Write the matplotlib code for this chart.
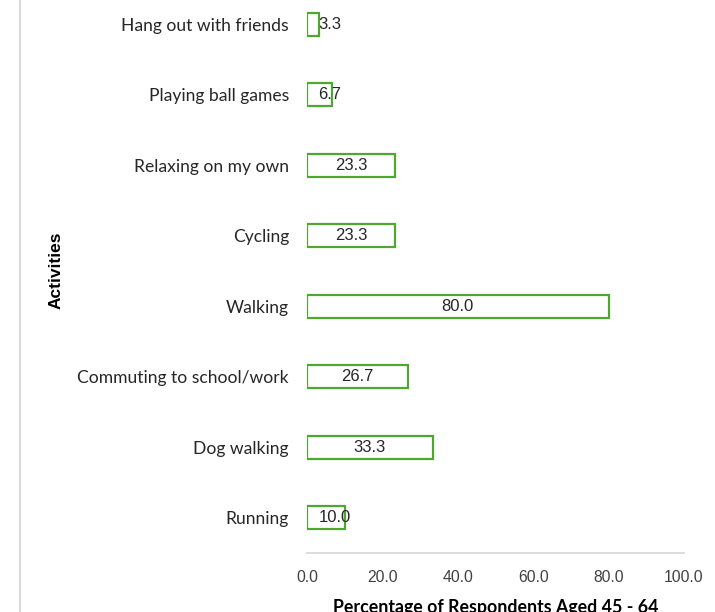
import matplotlib
matplotlib.use('Agg')
import matplotlib.pyplot as plt
from matplotlib.lines import Line2D

activities = ['Running', 'Dog walking', 'Commuting to school/work', 'Walking',
              'Cycling', 'Relaxing on my own', 'Playing ball games', 'Hang out with friends']
percent = [10.0, 33.3, 26.7, 80.0, 23.3, 23.3, 6.7, 3.3]
ticks = [0, 20, 40, 60, 80, 100]

green = '#4EA72E'
grey = '#D9D9D9'

fig = plt.figure(figsize=(7.15, 6.12), dpi=100)
ax = fig.add_axes([0.4294, 0.0964, 0.9566 - 0.4294, 1.018 - 0.0964])

ypos = range(len(activities))
ax.barh(ypos, percent, height=0.33, color='white', edgecolor=green, linewidth=1.6)

ax.set_xlim(0, 100)
ax.set_ylim(-0.5, len(activities) - 0.5)
ax.set_xticks(ticks)
ax.set_xticklabels([f'{t:.1f}' for t in ticks], family='Liberation Sans', fontsize=11.3, color='#404040')
ax.set_yticks(list(ypos))
ax.set_yticklabels(activities, family='Lato', fontsize=12.6, color='#262626')
ax.tick_params(axis='x', length=0, pad=12)
ax.tick_params(axis='y', length=0, pad=13)

for s in ['top', 'right', 'left']:
    ax.spines[s].set_visible(False)
ax.spines['bottom'].set_color(grey)
ax.spines['bottom'].set_linewidth(1.3)

# value labels, small bars get pushed right
for y, v in zip(ypos, percent):
    if v < 15:
        ax.text(3.0, y, f'{v:.1f}', ha='left', va='center', family='Liberation Sans',
                fontsize=12, color='#262626')
    else:
        ax.text(v / 2, y, f'{v:.1f}', ha='center', va='center', family='Liberation Sans',
                fontsize=12, color='#262626')

ax.set_xlabel('Percentage of Respondents Aged 45 - 64', family='Lato', fontweight='bold',
              fontsize=12.8, labelpad=10)
ax.set_ylabel('Activities', family='Liberation Sans', fontweight='bold', fontsize=12.5)
ax.yaxis.set_label_coords(-0.647, 0.502)

fig.add_artist(Line2D([20 / 715, 20 / 715], [0, 1], color=grey, linewidth=1.5))

fig.savefig('out.png', dpi=100)
